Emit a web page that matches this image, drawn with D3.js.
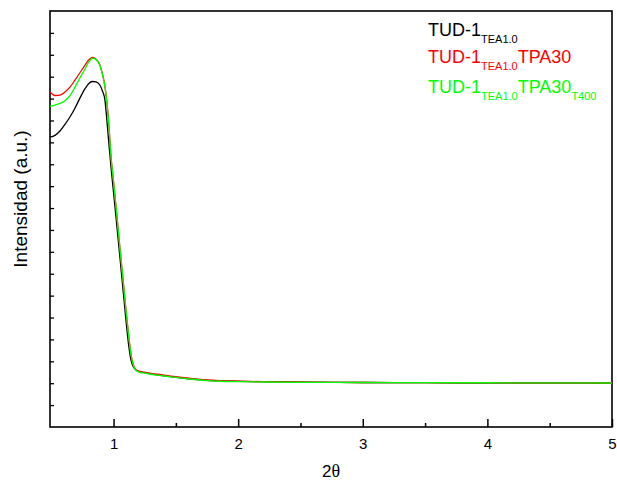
<!DOCTYPE html>
<html>
<head>
<meta charset="utf-8">
<script src="https://cdn.jsdelivr.net/npm/d3@7/dist/d3.min.js"></script>
<style>
  html, body { margin: 0; padding: 0; background: #fff; }
  svg { display: block; font-family: "Liberation Sans", Arial, sans-serif; }
</style>
</head>
<body>
<svg id="chart" width="617" height="482"></svg>
<script>
// 2θ sampling grid shared by all three patterns
const twoTheta = [0.49, 0.53, 0.57, 0.61, 0.65, 0.69, 0.73, 0.77, 0.80, 0.83, 0.86, 0.89, 0.91, 0.93, 0.945, 0.96,
  0.98, 1.00, 1.02, 1.04, 1.06, 1.08, 1.10, 1.12, 1.14, 1.16, 1.18, 1.21, 1.25, 1.30, 1.38, 1.46, 1.55, 1.65,
  1.75, 1.85, 2.0, 2.2, 2.5, 3.0, 3.5, 4.0, 4.5, 5.0];

// Intensities (a.u.)
const tud1 = [662, 666, 676, 691, 708, 728, 751, 772, 784, 789, 788, 781, 768, 748, 705, 655,
  592, 535, 478, 420, 361, 302, 243, 190, 153, 137, 130, 126, 124, 121.5, 118, 115, 111.7, 109,
  106.6, 105.3, 104.4, 103.5, 102.5, 101.6, 101.2, 101, 100.8, 100.5];
const tud1Tpa30 = [765, 757, 758, 765, 776, 792, 809, 826, 838, 844, 840, 827, 807, 780, 746, 700,
  616, 560, 502, 442, 383, 325, 266, 212, 166, 141, 131, 127, 125, 122.6, 119.4, 116.2, 113, 110,
  107.3, 105.7, 104.6, 103.5, 102.5, 101.6, 101.2, 101, 100.8, 100.5];
const tud1Tpa30T400 = [732, 735, 739, 745, 757, 776, 797, 817, 833, 842, 839, 826, 806, 779, 744, 698,
  616, 560, 502, 442, 383, 325, 266, 212, 165, 140, 129.5, 125, 123, 120.5, 117.5, 114.5, 111.5, 108.5,
  106, 104.5, 103.5, 102.8, 102, 101.6, 101.2, 101, 100.8, 100.5];

const xTicks = [1, 2, 3, 4, 5];
const xMinorTicks = [1.5, 2.5, 3.5, 4.5];
const yTickStep = 50;

const series = [
  { name: "TUD-1", parts: [["TUD-1", false], ["TEA1.0", true]], values: tud1, color: "#000000" },
  { name: "TUD-1 TPA30", parts: [["TUD-1", false], ["TEA1.0", true], ["TPA30", false]], values: tud1Tpa30, color: "#ff0000" },
  { name: "TUD-1 TPA30 T400", parts: [["TUD-1", false], ["TEA1.0", true], ["TPA30", false], ["T400", true]], values: tud1Tpa30T400, color: "#00ff00" }
];

const svg = d3.select("#chart");
const m = { left: 50, right: 5, top: 11, bottom: 55 };
const W = 617, H = 482;

const x = d3.scaleLinear().domain([0.49, 5]).range([m.left, W - m.right]);
const y = d3.scaleLinear().domain([0, 950]).range([H - m.bottom, m.top]);

// plot frame
svg.append("rect")
  .attr("x", x.range()[0]).attr("y", y.range()[1])
  .attr("width", x.range()[1] - x.range()[0])
  .attr("height", y.range()[0] - y.range()[1])
  .attr("fill", "none").attr("stroke", "#000").attr("stroke-width", 1.6);

// bottom axis: major ticks with labels, minor ticks, all pointing inward
const xAxis = svg.append("g").attr("transform", `translate(0,${y.range()[0]})`)
  .call(d3.axisBottom(x).tickValues(xTicks).tickFormat(d3.format("d")).tickSize(-8).tickPadding(0));
xAxis.select(".domain").remove();
xAxis.selectAll(".tick line").attr("stroke-width", 1.5);
xAxis.selectAll(".tick text")
  .attr("y", 22).attr("dy", 0)
  .attr("font-size", 15).attr("font-family", "Liberation Sans, Arial, sans-serif");

const xMinor = svg.append("g").attr("transform", `translate(0,${y.range()[0]})`)
  .call(d3.axisBottom(x).tickValues(xMinorTicks).tickFormat("").tickSize(-4));
xMinor.select(".domain").remove();
xMinor.selectAll(".tick line").attr("stroke-width", 1.5);

// left axis: unlabelled inward ticks
const yAxis = svg.append("g").attr("transform", `translate(${x.range()[0]},0)`)
  .call(d3.axisLeft(y).tickValues(d3.range(yTickStep, 950, yTickStep)).tickFormat("").tickSize(-4));
yAxis.select(".domain").remove();
yAxis.selectAll(".tick line").attr("stroke-width", 1.3);

// axis titles
const xTitle = svg.append("text")
  .attr("x", (x.range()[0] + x.range()[1]) / 2).attr("y", 477)
  .attr("text-anchor", "middle").attr("font-size", 17);
xTitle.append("tspan").text("2");
xTitle.append("tspan").attr("font-family", "Liberation Serif, Times New Roman, serif").attr("font-size", 18).text("θ");

svg.append("text")
  .attr("transform", "translate(27,199) rotate(-90)")
  .attr("text-anchor", "middle").attr("font-size", 19)
  .text("Intensidad (a.u.)");

// patterns
const line = d3.line()
  .x((d, i) => x(twoTheta[i]))
  .y(d => y(d))
  .curve(d3.curveMonotoneX);

const plot = svg.append("g");
series.forEach(s => {
  plot.append("path")
    .datum(s.values)
    .attr("d", line)
    .attr("fill", "none")
    .attr("stroke", s.color)
    .attr("stroke-width", 1.3)
    .attr("stroke-linejoin", "round");
});

// legend
const legendBaselines = [36, 63, 93];
series.forEach((s, i) => {
  const t = svg.append("text")
    .attr("x", 428).attr("y", legendBaselines[i])
    .attr("fill", s.color).attr("font-size", 18);
  let shifted = false;
  s.parts.forEach(([txt, sub]) => {
    const ts = t.append("tspan").text(txt);
    if (sub && !shifted) { ts.attr("dy", 6.5).attr("font-size", 11); shifted = true; }
    else if (sub) { ts.attr("font-size", 11); }
    else if (!sub && shifted) { ts.attr("dy", -6.5); shifted = false; }
  });
});
</script>
</body>
</html>
